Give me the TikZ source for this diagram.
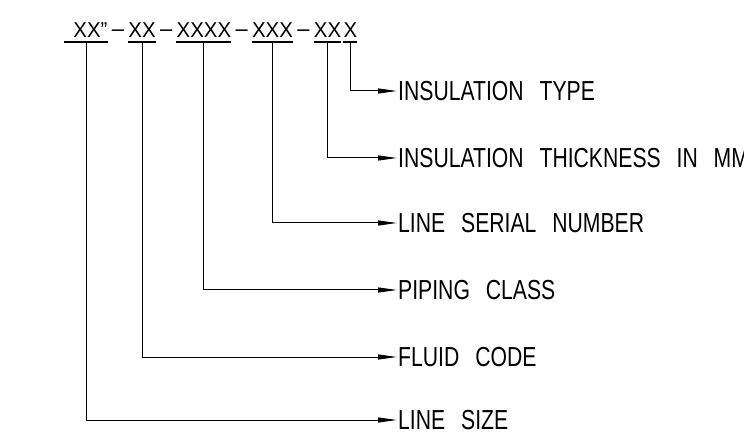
\documentclass[tikz,border=0pt]{standalone}
\usepackage{fontspec}
\usetikzlibrary{positioning,arrows.meta}
\newfontfamily\tagtitlefont[FakeStretch=0.95]{Liberation Sans}
\newfontfamily\taglabelfont[FakeStretch=0.77,WordSpace=2.7]{Liberation Sans}
\tikzset{
  tag field/.style={inner xsep=1pt,inner ysep=4pt,font=\tagtitlefont\fontsize{21.5pt}{24pt}\selectfont},
  tag sep/.style={inner xsep=3pt,inner ysep=4pt,font=\tagtitlefont\fontsize{23pt}{24pt}\selectfont},
  tag underline/.style={line width=1.6pt,draw=black},
  tag leader/.style={-{Triangle[length=19pt,width=5pt]},line width=1pt,draw=black},
  tag label/.style={anchor=west,inner xsep=1pt,inner ysep=0pt,font=\taglabelfont\fontsize{27.5pt}{30pt}\selectfont}
}

\begin{document}
\begin{tikzpicture}[x=1pt,y=-1pt]
  \useasboundingbox (0,0) rectangle (744,446);

  % line number string
  \node[tag field,anchor=south] (size) at (86,42) {\hspace*{9pt}XX”};
  \node[tag sep,base right=0pt of size] (sep1) {\raisebox{0.8pt}{–}};
  \node[tag field,base right=0pt of sep1] (fluid) {XX};
  \node[tag sep,base right=0pt of fluid] (sep2) {\raisebox{0.8pt}{–}};
  \node[tag field,base right=0pt of sep2] (class) {XXXX};
  \node[tag sep,base right=0pt of class] (sep3) {\raisebox{0.8pt}{–}};
  \node[tag field,base right=0pt of sep3] (serial) {XXX};
  \node[tag sep,base right=0pt of serial] (sep4) {\raisebox{0.8pt}{–}};
  \node[tag field,base right=0pt of sep4] (thick) {XX};
  \node[tag field,base right=0pt of thick] (type) {X};
  \foreach \f in {size,fluid,class,serial,thick,type}
    \draw[tag underline] ([xshift=1pt]\f.south west) -- ([xshift=-1pt]\f.south east);

  % descriptions
  \node[tag label] (typelbl) at (397,91) {INSULATION TYPE};
  \node[tag label] (thicklbl) at (397,158) {INSULATION THICKNESS IN MM};
  \node[tag label] (seriallbl) at (397,223) {LINE SERIAL NUMBER};
  \node[tag label] (classlbl) at (397,290) {PIPING CLASS};
  \node[tag label] (fluidlbl) at (397,357) {FLUID CODE};
  \node[tag label] (sizelbl) at (397,420) {LINE SIZE};

  \draw[tag leader] (type.south) |- (typelbl.west);
  \draw[tag leader] (thick.south) |- (thicklbl.west);
  \draw[tag leader] (serial.south) |- (seriallbl.west);
  \draw[tag leader] (class.south) |- (classlbl.west);
  \draw[tag leader] (fluid.south) |- (fluidlbl.west);
  \draw[tag leader] (size.south) |- (sizelbl.west);
\end{tikzpicture}
\end{document}
